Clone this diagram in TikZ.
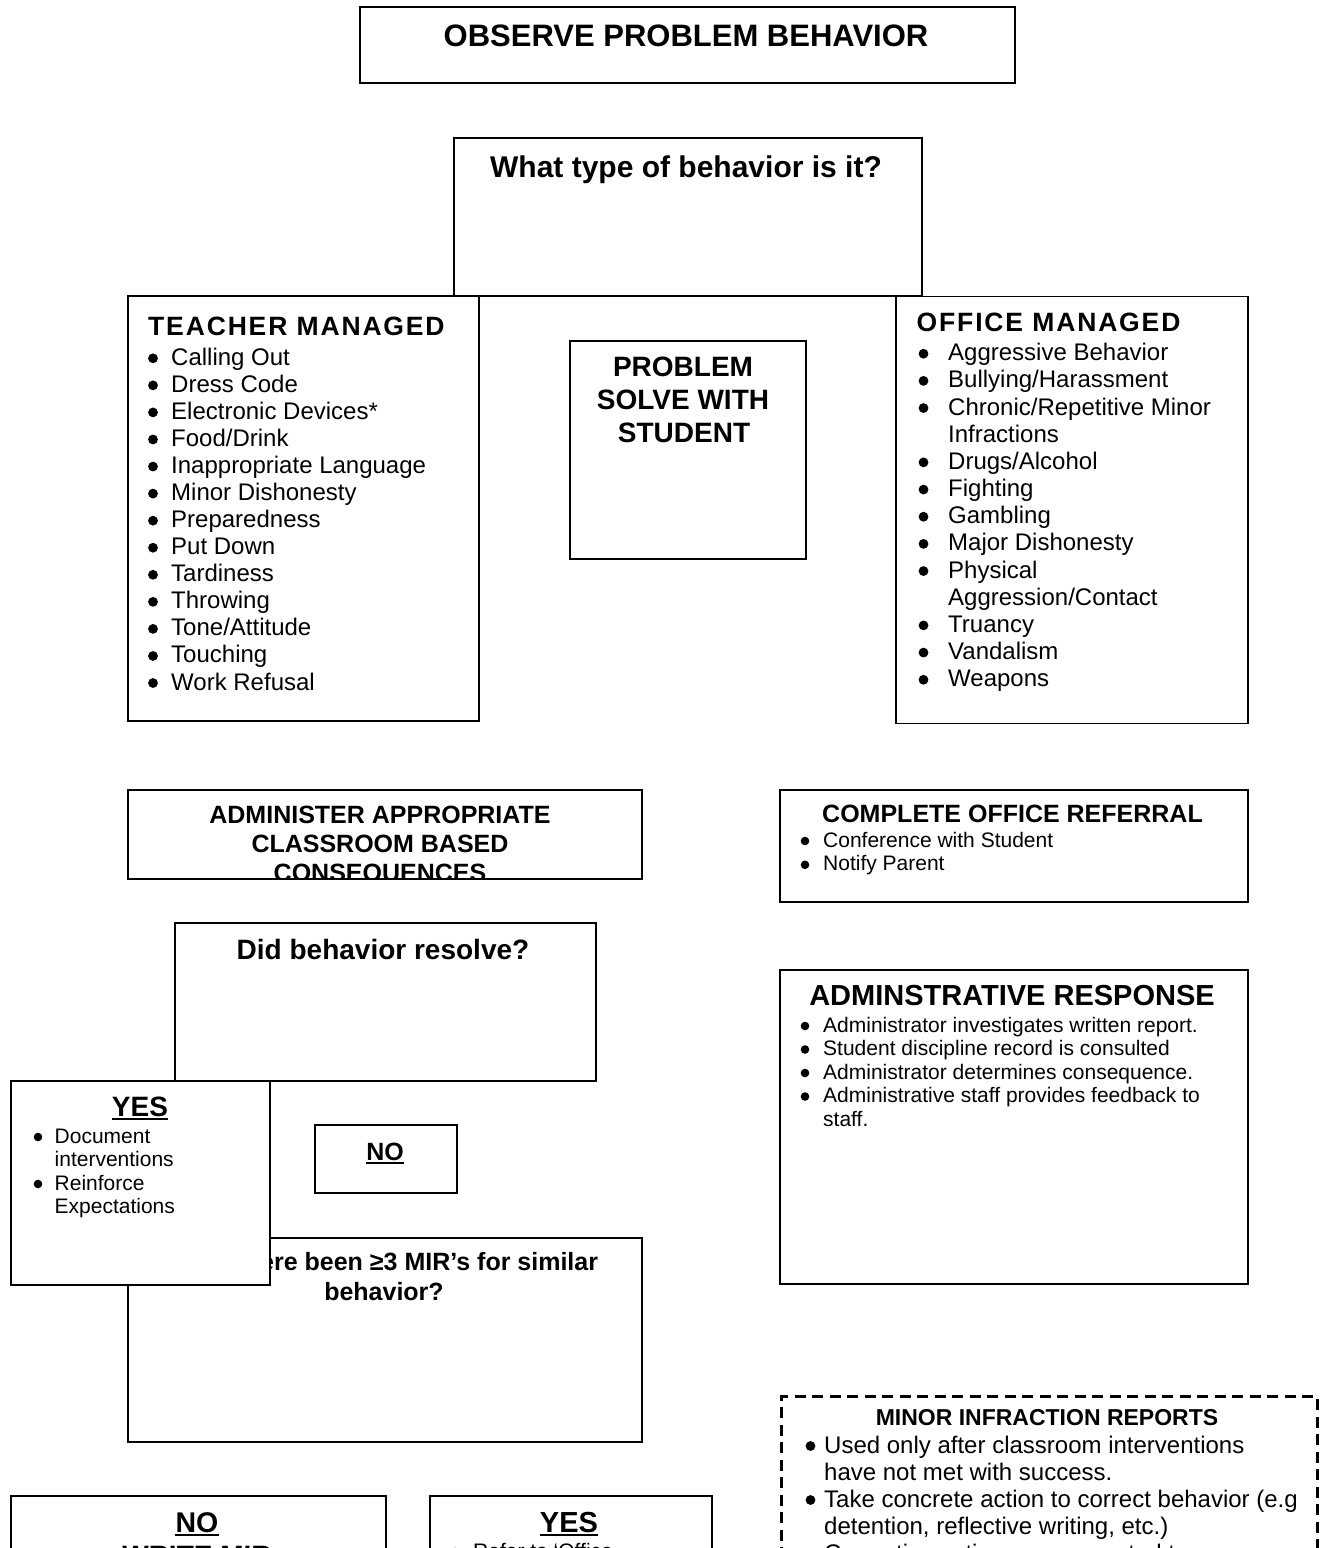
\documentclass[tikz,border=0pt]{standalone}
\usepackage{fontspec}
\setmainfont{Liberation Sans}
\newfontfamily\hdfont[LetterSpace=7]{Liberation Sans}
\newcommand\fsz[1]{\fontsize{#1}{#1}\selectfont}
\begin{document}
\begin{tikzpicture}[x=1pt,y=-1pt,
  box/.style={draw, line width=1.8pt, fill=white, inner sep=0pt, anchor=north west},
  txt/.style={inner sep=0pt, anchor=base},
  lst/.style={inner sep=0pt, anchor=base west},
  uline/.style={line width=2pt}]
\useasboundingbox (0,0) rectangle (1322,1548);
\clip (0,0) rectangle (1322,1548);

% top
\node[box, minimum width=655pt, minimum height=76pt] (observe) at (359,6) {};
\node[txt, font=\bfseries\fsz{31}] (observeT) at (686,46) {OBSERVE PROBLEM BEHAVIOR};

\node[box, minimum width=468pt, minimum height=158pt] (type) at (453,137) {};
\node[txt, font=\bfseries\fsz{30}] (typeT) at (686,177) {What type of behavior is it?};

% teacher managed
\node[box, minimum width=351pt, minimum height=425pt] (teacher) at (127,295) {};
\node[lst, font=\hdfont\bfseries\fsz{26.5}] (teacherT) at (148,335.7) {TEACHER MANAGED};
\foreach \t [count=\i from 0] in {Calling Out, Dress Code, Electronic Devices*, Food/Drink, Inappropriate Language, Minor Dishonesty, Preparedness, Put Down, Tardiness, Throwing, Tone/Attitude, Touching, Work Refusal}{
  \node[lst, font=\fsz{24}] (tm\i) at (171,365.3+27.06*\i) {\t};
  \fill (153,358.3+27.06*\i) circle[radius=4.9pt];
}

% problem solve
\node[box, minimum width=236pt, minimum height=218pt] (solve) at (569,340) {};
\node[txt, font=\bfseries\fsz{28}] (solveT1) at (683,376) {PROBLEM};
\node[txt, font=\bfseries\fsz{28}] (solveT2) at (683,409) {SOLVE WITH};
\node[txt, font=\bfseries\fsz{28}] (solveT3) at (684,442) {STUDENT};

% office managed
\node[box, minimum width=352pt, minimum height=427pt] (office) at (895,295.5) {};
\node[lst, font=\hdfont\bfseries\fsz{26.5}] (officeT) at (916.5,331.7) {OFFICE MANAGED};
\foreach \t [count=\i from 0] in {Aggressive Behavior, Bullying/Harassment, Chronic/Repetitive Minor, Infractions, Drugs/Alcohol, Fighting, Gambling, Major Dishonesty, Physical, Aggression/Contact, Truancy, Vandalism, Weapons}{
  \node[lst, font=\fsz{24}] (om\i) at (948,360.7+27.17*\i) {\t};
}
\foreach \i in {0,1,2,4,5,6,7,8,10,11,12}{
  \fill (923.5,353.7+27.17*\i) circle[radius=4.9pt];
}

% administer consequences (text cut by the box)
\begin{scope}
  \clip (127,789) rectangle (641,878);
  \node[txt, font=\bfseries\fsz{25}] (adminT1) at (380,823) {ADMINISTER APPROPRIATE};
  \node[txt, font=\bfseries\fsz{25}] (adminT2) at (380,852) {CLASSROOM BASED};
  \node[txt, font=\bfseries\fsz{25}] (adminT3) at (380,881) {CONSEQUENCES};
\end{scope}
\node[box, fill=none, minimum width=514pt, minimum height=89pt] (admin) at (127,789) {};

% complete office referral
\node[box, minimum width=468pt, minimum height=112pt] (referral) at (779,789) {};
\node[txt, font=\bfseries\fsz{25}] (referralT) at (1012.5,822.7) {COMPLETE OFFICE REFERRAL};
\foreach \t [count=\i from 0] in {Conference with Student, Notify Parent}{
  \node[lst, font=\fsz{21}] (cr\i) at (823,847+23.8*\i) {\t};
  \fill (805,841+23.8*\i) circle[radius=4.3pt];
}

% did behavior resolve
\node[box, minimum width=421pt, minimum height=158pt] (resolve) at (174,922) {};
\node[txt, font=\bfseries\fsz{28}] (resolveT) at (383,959) {Did behavior resolve?};

% administrative response
\node[box, minimum width=468pt, minimum height=314pt] (response) at (779,969) {};
\node[txt, font=\bfseries\fsz{29}] (responseT) at (1012,1005) {ADMINSTRATIVE RESPONSE};
\foreach \t [count=\i from 0] in {Administrator investigates written report., Student discipline record is consulted, Administrator determines consequence., Administrative staff provides feedback to, staff.}{
  \node[lst, font=\fsz{21}] (ar\i) at (823,1032+23.5*\i) {\t};
}
\foreach \i in {0,1,2,3}{
  \fill (805,1026+23.5*\i) circle[radius=4.3pt];
}

% have there been
\node[box, minimum width=514pt, minimum height=204pt] (mirq) at (127,1237) {};
\node[txt, font=\bfseries\fsz{25}] (mirqT1) at (384,1270) {Have there been ≥3 MIR’s for similar};
\node[txt, font=\bfseries\fsz{25}] (mirqT2) at (384,1300) {behavior?};

% yes box (left, on top)
\node[box, minimum width=259pt, minimum height=204pt] (yes1) at (10,1080) {};
\node[txt, font=\bfseries\fsz{28}] (yes1T) at (140,1116.7) {YES};
\draw[uline] ([yshift=-2.5pt]yes1T.base west) -- ([yshift=-2.5pt]yes1T.base east);
\foreach \t [count=\i from 0] in {Document, interventions, Reinforce, Expectations}{
  \node[lst, font=\fsz{21}] (y1\i) at (54.5,1143+23.5*\i) {\t};
}
\foreach \i in {0,2}{
  \fill (38,1137+23.5*\i) circle[radius=4.3pt];
}

% no box (small)
\node[box, minimum width=142pt, minimum height=68pt] (no1) at (314,1124) {};
\node[txt, font=\bfseries\fsz{25}] (no1T) at (385,1160) {NO};
\draw[uline] ([yshift=-2.5pt]no1T.base west) -- ([yshift=-2.5pt]no1T.base east);

% bottom boxes
\node[box, minimum width=375pt, minimum height=120pt] (no2) at (10,1495) {};
\node[txt, font=\bfseries\fsz{28.5}] (no2T) at (197,1532) {NO};
\draw[uline] ([yshift=-2.5pt]no2T.base west) -- ([yshift=-2.5pt]no2T.base east);
\node[txt, font=\bfseries\fsz{28}] (writeT) at (197,1565) {WRITE MIR};

\node[box, minimum width=282pt, minimum height=120pt] (yes2) at (429,1495) {};
\node[txt, font=\bfseries\fsz{29}] (yes2T) at (569,1532) {YES};
\draw[uline] ([yshift=-2.5pt]yes2T.base west) -- ([yshift=-2.5pt]yes2T.base east);
\node[lst, font=\fsz{21}] (referT) at (473,1558) {Refer to ‘Office};
\fill (455,1552) circle[radius=4.3pt];

% minor infraction reports (dashed)
\node[draw, line width=3pt, dash pattern=on 11pt off 6.5pt, inner sep=0pt, anchor=north west,
      minimum width=536pt, minimum height=300pt] (mir) at (779.5,1395) {};
\node[txt, font=\bfseries\fsz{23}] (mirT) at (1047,1425) {MINOR INFRACTION REPORTS};
\foreach \t [count=\i from 0] in {Used only after classroom interventions, have not met with success., Take concrete action to correct behavior (e.g, {detention, reflective writing, etc.)}, Corrective actions are expected to}{
  \node[lst, font=\fsz{24}] (mr\i) at (824,1453+27*\i) {\t};
}
\foreach \i in {0,2,4}{
  \fill (810.5,1446+27*\i) circle[radius=4.9pt];
}
\end{tikzpicture}
\end{document}
